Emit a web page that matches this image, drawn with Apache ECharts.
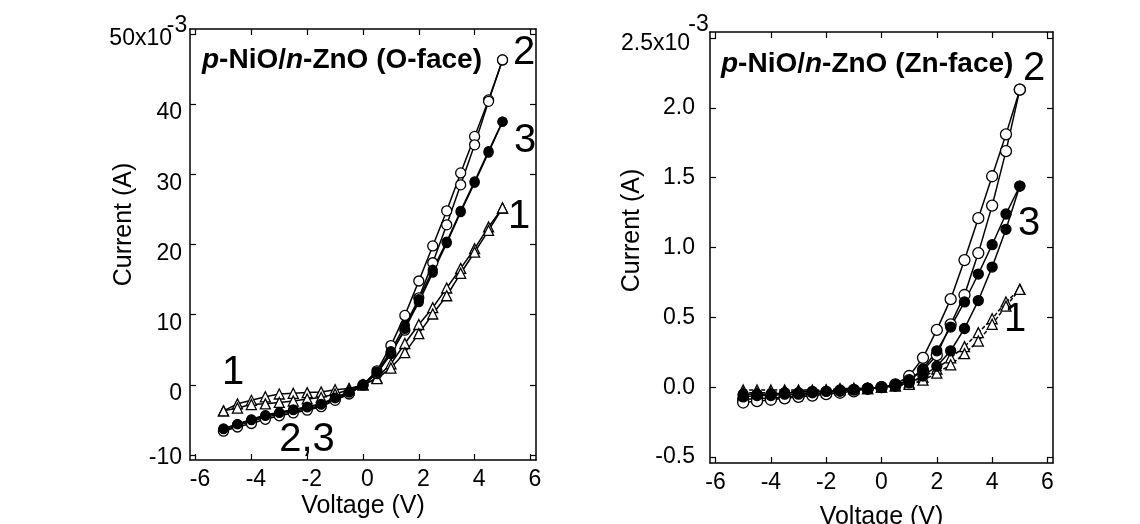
<!DOCTYPE html>
<html>
<head>
<meta charset="utf-8">
<script src="https://cdn.jsdelivr.net/npm/echarts@6/dist/echarts.min.js"></script>
<style>
  html, body { margin: 0; padding: 0; background: #fff; }
  #chart { width: 1140px; height: 524px; }
</style>
</head>
<body>
<div id="chart"></div>
<script>
// voltage sweep, same for every curve
var voltage = [-5, -4.5, -4, -3.5, -3, -2.5, -2, -1.5, -1, -0.5, 0, 0.5, 1, 1.5, 2, 2.5, 3, 3.5, 4, 4.5, 5];

// O-face, current in mA (two sweeps per sample)
var oFaceTriA  = [-3.7, -2.7, -2.2, -1.7, -1.3, -1.2, -1.1, -1.0, -0.7, -0.5, 0, 1.0, 3.0, 5.9, 8.6, 11.0, 13.8, 16.6, 19.4, 22.5, 25.2];
var oFaceTriB  = [-3.7, -3.3, -2.8, -2.7, -2.5, -2.3, -2.0, -1.8, -1.3, -0.7, 0, 0.9, 2.4, 4.6, 7.3, 10.1, 12.7, 15.9, 18.9, 22.0, 25.2];
var oFaceOpenA = [-6.5, -5.8, -5.2, -4.6, -4.2, -3.8, -3.4, -3.0, -2.1, -1.2, 0, 2.0, 5.6, 9.9, 14.8, 19.8, 24.8, 30.2, 35.4, 40.6, 46.3];
var oFaceOpenB = [-6.6, -6.0, -5.5, -4.9, -4.4, -4.0, -3.6, -3.1, -2.2, -1.3, 0, 1.6, 4.5, 7.8, 12.4, 17.4, 22.8, 28.5, 34.2, 40.4, 46.3];
var oFaceFillA = [-6.3, -5.6, -5.0, -4.4, -4.0, -3.6, -3.2, -2.8, -1.9, -1.1, 0, 1.9, 4.8, 8.5, 12.2, 16.4, 20.4, 24.8, 29.0, 33.3, 37.5];
var oFaceFillB = [-6.2, -5.6, -4.9, -4.3, -3.9, -3.5, -3.1, -2.7, -1.8, -1.0, 0, 1.7, 4.4, 8.0, 11.8, 16.0, 20.2, 24.6, 28.8, 33.1, 37.5];

// Zn-face, current in mA
var znFaceTriA  = [-0.02, -0.02, -0.02, -0.02, -0.02, -0.02, -0.02, -0.01, -0.01, -0.01, 0, 0.01, 0.03, 0.07, 0.13, 0.21, 0.29, 0.39, 0.49, 0.61, 0.70];
var znFaceTriB  = [-0.04, -0.04, -0.04, -0.03, -0.03, -0.03, -0.02, -0.02, -0.01, -0.01, 0, 0.01, 0.02, 0.05, 0.10, 0.16, 0.24, 0.33, 0.45, 0.58, 0.70];
var znFaceOpenA = [-0.09, -0.08, -0.08, -0.07, -0.06, -0.05, -0.04, -0.03, -0.02, -0.01, 0, 0.02, 0.08, 0.21, 0.41, 0.63, 0.91, 1.21, 1.51, 1.81, 2.13];
var znFaceOpenB = [-0.11, -0.10, -0.09, -0.08, -0.07, -0.06, -0.05, -0.04, -0.03, -0.01, 0, 0.01, 0.05, 0.12, 0.23, 0.45, 0.66, 0.96, 1.30, 1.69, 2.13];
var znFaceFillA = [-0.05, -0.05, -0.05, -0.04, -0.04, -0.03, -0.03, -0.02, -0.02, -0.01, 0, 0.02, 0.05, 0.13, 0.26, 0.43, 0.61, 0.81, 1.02, 1.24, 1.44];
var znFaceFillB = [-0.07, -0.06, -0.06, -0.05, -0.05, -0.04, -0.03, -0.03, -0.02, -0.01, 0, 0.01, 0.03, 0.08, 0.15, 0.26, 0.42, 0.62, 0.86, 1.13, 1.44];

// tick labels
var xTicks = [-6, -4, -2, 0, 2, 4, 6];
var oFaceTicks = [-10, 0, 10, 20, 30, 40, 50];
var znFaceTicks = [-0.5, 0, 0.5, 1.0, 1.5, 2.0, 2.5];

var FONT = 'Liberation Sans, Arial, Helvetica, sans-serif';
var LBL = 23;

function pairs(vals) {
  return voltage.map(function (v, i) { return [v, vals[i]]; });
}

function curve(vals, idx, shape, filled, dashed, size) {
  return {
    type: 'line',
    xAxisIndex: idx * 2,
    yAxisIndex: idx * 2,
    data: pairs(vals),
    symbol: shape,
    symbolSize: size,
    showAllSymbol: true,
    animation: false,
    lineStyle: { color: '#000', width: 1.5, type: dashed ? [4, 2] : 'solid' },
    itemStyle: { color: filled ? '#000' : '#fff', borderColor: '#000', borderWidth: 1.3 }
  };
}

var axisLine = { onZero: false, lineStyle: { color: '#000', width: 1.5 } };

function txt(extra) {
  var o = { fontSize: LBL, color: '#000', fontFamily: FONT };
  for (var k in extra) o[k] = extra[k];
  return o;
}

function xAx(gi, mirror, gap) {
  return {
    type: 'value', gridIndex: gi, min: -6.2, max: 6.2,
    position: mirror ? 'top' : 'bottom',
    axisLine: axisLine,
    axisTick: { inside: true, length: 6, customValues: xTicks, lineStyle: { color: '#000', width: 1.2 } },
    axisLabel: mirror ? { show: false } : txt({
      customValues: xTicks, margin: 8,
      padding: gi === 0 ? [0, 0, 0, 9] : 0
    }),
    splitLine: { show: false },
    name: mirror ? '' : 'Voltage (V)',
    nameLocation: 'middle', nameGap: gap, nameMoveOverlap: false,
    nameTextStyle: { fontSize: 25, color: '#000', fontFamily: FONT }
  };
}

// left panel labels sit a little below their ticks in the original
var leftRich = {
  d: txt({ padding: [18, 0, 0, 0] }),
  e: txt({ padding: [6, 0, 0, 0] }),
  m: txt({ padding: [10, 0, 0, 0] }),
  s: txt({ padding: [0, 0, 16, 0], align: 'left', width: 10 })
};
var rightRich = {
  d: txt({ padding: [0, 5, 0, 0] }),
  e: txt({ padding: [0, 5, 0, 0] }),
  m: txt({ padding: [12, 0, 0, 0] }),
  s: txt({ padding: [0, 0, 27, 7], align: 'left', width: 3 })
};

function yAx(gi, mirror, min, max, ticks, fmt, top, gap, margin, shift) {
  return {
    type: 'value', gridIndex: gi, min: min, max: max,
    position: mirror ? 'right' : 'left',
    axisLine: axisLine,
    axisTick: { inside: true, length: 6, customValues: ticks, lineStyle: { color: '#000', width: 1.2 } },
    axisLabel: mirror ? { show: false } : txt({
      customValues: ticks, margin: margin,
      formatter: function (v) {
        if (Math.abs(v - top) < 1e-9) return '{m|' + fmt(v) + 'x10}{s|-3}';
        if (v === ticks[0]) return '{e|' + fmt(v) + '}';
        return '{d|' + fmt(v) + '}';
      },
      rich: gi === 0 ? leftRich : rightRich
    }),
    splitLine: { show: false },
    name: mirror ? '' : 'Current (A)',
    nameLocation: 'middle', nameGap: gap, nameMoveOverlap: false,
    nameTextStyle: { fontSize: 25, color: '#000', fontFamily: FONT, padding: [0, 0, 0, shift] }
  };
}

function title(text, left, top) {
  return {
    text: text, left: left, top: top,
    textStyle: {
      fontSize: 28, fontWeight: 'bold', color: '#000', fontFamily: FONT,
      rich: { i: { fontSize: 28, fontWeight: 'bold', fontStyle: 'italic', color: '#000', fontFamily: FONT } }
    }
  };
}

function tag(text, x, y) {
  return {
    type: 'text', x: x, y: y, z: 10,
    style: { text: text, font: '40px ' + FONT, fill: '#000', textAlign: 'center', textVerticalAlign: 'middle' }
  };
}

var chart = echarts.init(document.getElementById('chart'), null, { renderer: 'canvas' });

chart.setOption({
  backgroundColor: '#fff',
  animation: false,
  title: [
    title('{i|p}-NiO/{i|n}-ZnO (O-face)', 197, 41),
    title('{i|p}-NiO/{i|n}-ZnO (Zn-face)', 716, 45)
  ],
  grid: [
    { left: 190, top: 29, width: 346, height: 431, outerBoundsMode: 'none' },
    { left: 710, top: 32, width: 343, height: 431, outerBoundsMode: 'none' }
  ],
  xAxis: [
    xAx(0, false, 34), xAx(0, true, 0),
    xAx(1, false, 42), xAx(1, true, 0)
  ],
  yAxis: [
    yAx(0, false, -10.7, 50.7, oFaceTicks, function (v) { return String(v); }, 50, 53, 8, 40),
    yAx(0, true, -10.7, 50.7, oFaceTicks),
    yAx(1, false, -0.543, 2.543, znFaceTicks, function (v) { return v.toFixed(1); }, 2.5, 65, 10, 34),
    yAx(1, true, -0.543, 2.543, znFaceTicks)
  ],
  series: [
    curve(oFaceTriA, 0, 'triangle', false, false, 10),
    curve(oFaceTriB, 0, 'triangle', false, false, 10),
    curve(oFaceOpenA, 0, 'circle', false, false, 10),
    curve(oFaceOpenB, 0, 'circle', false, false, 10),
    curve(oFaceFillA, 0, 'circle', true, false, 9),
    curve(oFaceFillB, 0, 'circle', true, false, 9),
    curve(znFaceTriA, 1, 'triangle', false, true, 10),
    curve(znFaceTriB, 1, 'triangle', false, true, 10),
    curve(znFaceOpenA, 1, 'circle', false, false, 11),
    curve(znFaceOpenB, 1, 'circle', false, false, 11),
    curve(znFaceFillA, 1, 'circle', true, false, 10),
    curve(znFaceFillB, 1, 'circle', true, false, 10)
  ],
  graphic: [
    tag('2', 524, 53),
    tag('3', 525, 141),
    tag('1', 519, 217),
    tag('1', 233, 373),
    tag('2,3', 307, 440),
    tag('2', 1034, 69),
    tag('3', 1029, 224),
    tag('1', 1015, 320)
  ]
});
</script>
</body>
</html>
